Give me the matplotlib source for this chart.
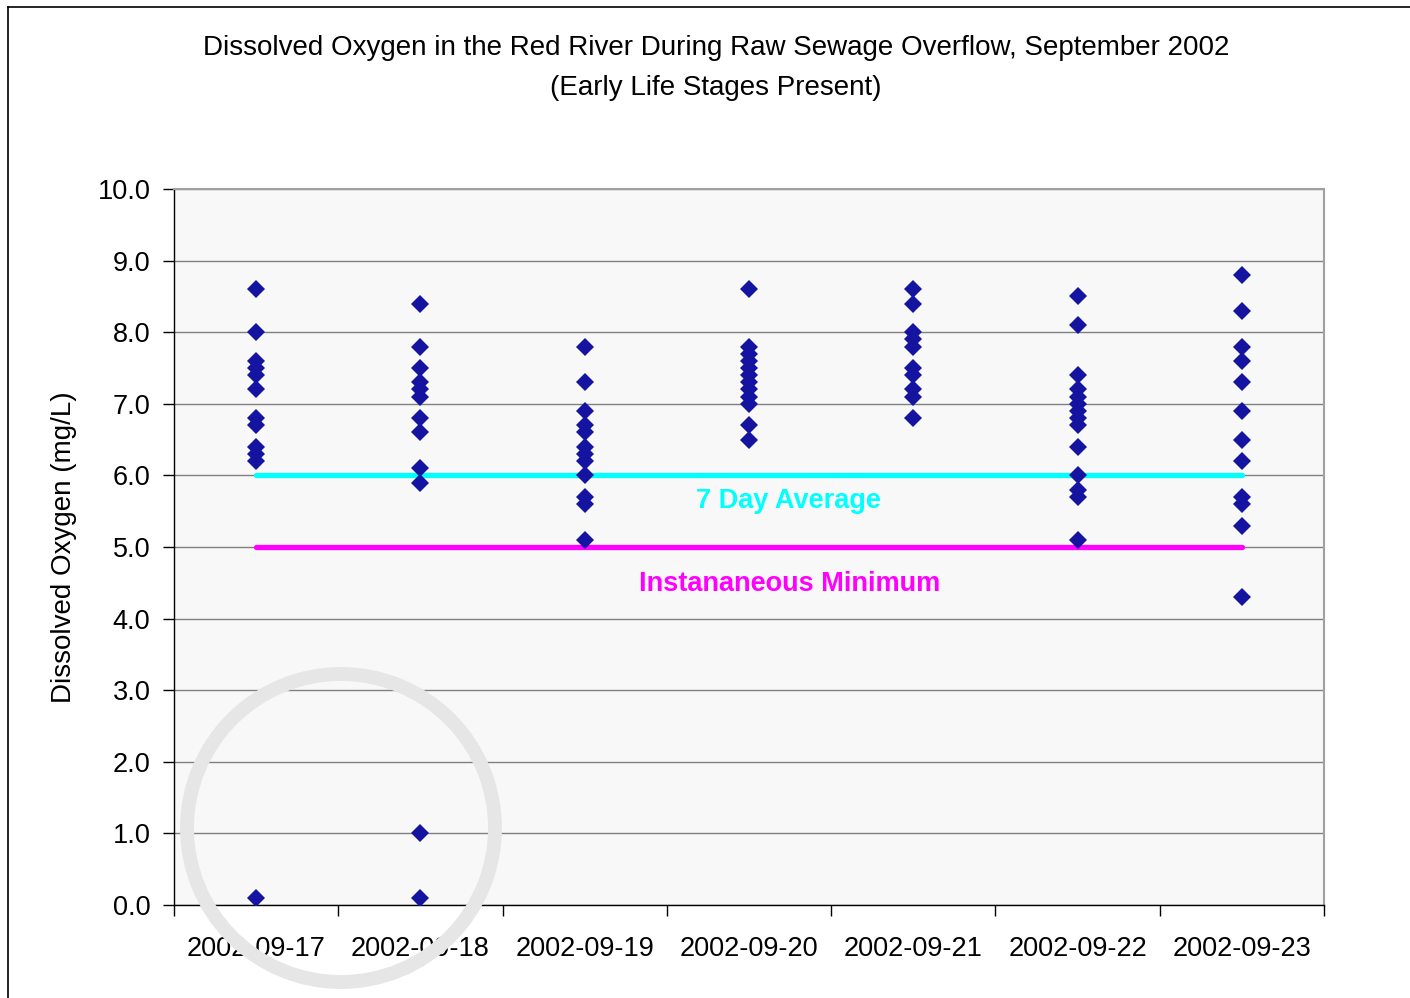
import matplotlib
matplotlib.use("Agg")
import matplotlib.pyplot as plt
from matplotlib.patches import Ellipse
from matplotlib.lines import Line2D

plt.rcParams['font.family'] = ['Liberation Sans', 'DejaVu Sans']

dates = ["2002-09-17", "2002-09-18", "2002-09-19", "2002-09-20",
         "2002-09-21", "2002-09-22", "2002-09-23"]

do_0917 = [8.6, 8.0, 7.6, 7.5, 7.4, 7.2, 6.8, 6.7, 6.4, 6.3, 6.2, 0.1]
do_0918 = [8.4, 7.8, 7.5, 7.3, 7.2, 7.1, 6.8, 6.6, 6.1, 5.9, 1.0, 0.1]
do_0919 = [7.8, 7.3, 6.9, 6.7, 6.6, 6.4, 6.3, 6.2, 6.0, 5.7, 5.6, 5.1]
do_0920 = [8.6, 7.8, 7.7, 7.6, 7.5, 7.4, 7.3, 7.2, 7.1, 7.0, 6.7, 6.5]
do_0921 = [8.6, 8.4, 8.0, 7.9, 7.8, 7.5, 7.4, 7.2, 7.1, 6.8]
do_0922 = [8.5, 8.1, 7.4, 7.2, 7.1, 7.0, 6.9, 6.8, 6.7, 6.4, 6.0, 5.8, 5.7, 5.1]
do_0923 = [8.8, 8.3, 7.8, 7.6, 7.3, 6.9, 6.5, 6.2, 5.7, 5.6, 5.3, 4.3]

series = [do_0917, do_0918, do_0919, do_0920, do_0921, do_0922, do_0923]

avg_7day = 6.0
inst_min = 5.0

y_ticks = [0.0, 1.0, 2.0, 3.0, 4.0, 5.0, 6.0, 7.0, 8.0, 9.0, 10.0]

W, H = 1410, 998
fig = plt.figure(figsize=(W / 100, H / 100), dpi=100)
fig.patch.set_facecolor('white')
ax = fig.add_axes([174 / W, 1 - 905 / H, (1324 - 174) / W, (905 - 189) / H])
ax.set_facecolor('#f8f8f8')

n = len(dates)
xs = list(range(n))

# reference lines
ax.plot([xs[0], xs[-1]], [avg_7day, avg_7day], color='#00FFFF', lw=3.8,
        solid_capstyle='round', zorder=3)
ax.plot([xs[0], xs[-1]], [inst_min, inst_min], color='#FF00FF', lw=3.8,
        solid_capstyle='round', zorder=3)

for i, vals in enumerate(series):
    ax.plot([xs[i]] * len(vals), vals, linestyle='none', marker='D',
            markersize=9.5, color='#1414A0', markeredgewidth=0, zorder=4)

ax.text(3.24, 5.64, "7 Day Average", color='#00FFFF', fontsize=19.5,
        fontweight='bold', ha='center', va='center', zorder=5)
ax.text(3.25, 4.49, "Instananeous Minimum", color='#FF00FF', fontsize=19.5,
        fontweight='bold', ha='center', va='center', zorder=5)

ax.set_xlim(-0.5, n - 0.5)
ax.set_ylim(0, 10)
ax.set_yticks(y_ticks)
ax.set_yticklabels([f"{v:.1f}" for v in y_ticks])
ax.grid(axis='y', color='#808080', lw=1.0, zorder=1)
ax.set_axisbelow(True)

ax.set_xticks([i - 0.5 for i in range(n + 1)])
ax.set_xticklabels([])
ax.set_xticks(xs, minor=True)
ax.set_xticklabels(dates, minor=True)
ax.tick_params(axis='x', which='major', length=8, width=1, color='black')
ax.tick_params(axis='x', which='minor', length=0, pad=22, labelsize=19.5)
ax.tick_params(axis='y', length=8, width=1, pad=9, labelsize=19.5)

for s in ['left', 'bottom']:
    ax.spines[s].set_color('black')
    ax.spines[s].set_linewidth(1.0)
for s in ['top', 'right']:
    ax.spines[s].set_color('#a0a0a0')
    ax.spines[s].set_linewidth(1.5)

ax.set_ylabel("Dissolved Oxygen (mg/L)", fontsize=20, labelpad=15)

fig.text(716 / W, 1 - 48 / H, "Dissolved Oxygen in the Red River During Raw Sewage Overflow, September 2002",
         ha='center', va='center', fontsize=20)
fig.text(716 / W, 1 - 88 / H, "(Early Life Stages Present)",
         ha='center', va='center', fontsize=20)

# figure frame
fig.add_artist(Line2D([8 / W, 8 / W], [0, 1 - 7 / H], color='black', lw=1.2,
                      transform=fig.transFigure))
fig.add_artist(Line2D([8 / W, 1], [1 - 7 / H, 1 - 7 / H], color='black', lw=1.2,
                      transform=fig.transFigure))

# highlight circle
fig.add_artist(Ellipse((341 / W, 1 - 828 / H), 2 * 154 / W, 2 * 154 / H,
                       fill=False, edgecolor='#e6e6e6', lw=10,
                       transform=fig.transFigure, zorder=10))

fig.savefig("out.png", dpi=100)
